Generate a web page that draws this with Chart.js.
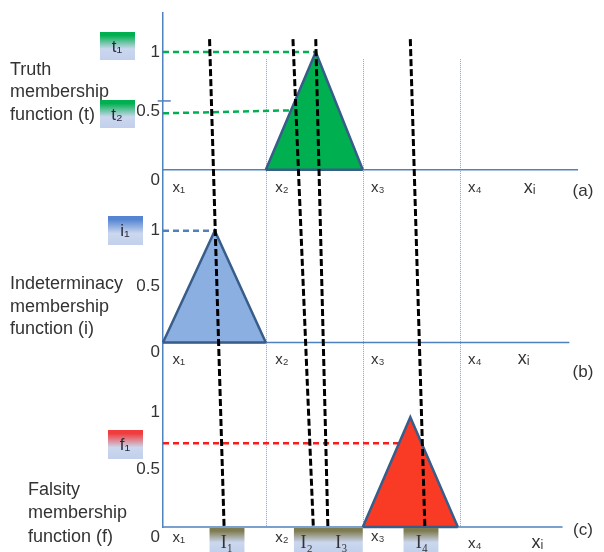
<!DOCTYPE html>
<html>
<head>
<meta charset="utf-8">
<script src="https://cdn.jsdelivr.net/npm/chart.js@4.4.1/dist/chart.umd.min.js"></script>
<style>
  html, body { margin: 0; padding: 0; background: #fff; }
</style>
</head>
<body>
<canvas id="chart" width="604" height="552"></canvas>
<script>
// x units: 1, 2, 3 are the x2, x3, x4 grid lines, the y axis sits at -0.06
var xMin = -0.06, xMax = 4.25;
var xLabels = ['x₁', 'x₂', 'x₃', 'x₄', 'xᵢ'];
var yTicks = [0, 0.5, 1];
var gridX = [1, 2, 3];
var axisEnd = [4.22, 4.13, 4.06];   // length of each panel's x axis

// (a) truth membership
var truthX = [1, 1.515, 2];
var truthY = [0, 1, 0];
var t1LineX = [-0.06, 1.515];
var t1LineY = [1, 1];
var t2LineX = [-0.06, 1.25];
var t2LineY = [0.48, 0.505];
var strayTickX = [-0.115, 0.02];
var strayTickY = [0.585, 0.585];

// (b) indeterminacy membership
var indetX = [-0.06, 0.474, 1];
var indetY = [0, 1, 0];
var i1LineX = [-0.06, 0.474];
var i1LineY = [1, 1];

// (c) falsity membership
var falsX = [2, 2.49, 2.98];
var falsY = [0, 0.957, 0];
var f1LineX = [-0.06, 2.62];
var f1LineY = [0.73, 0.73];

// black dashed cuts, from panel (a) down to panel (c) baseline
var cutTopX = [0.42, 1.28, 1.515, 2.49];
var cutBottomX = [0.57, 1.49, 1.64, 2.64];
var cutTopY = 1.11;
var gridTopY = 0.94;

// interval labels under panel (c)
var intervals = ['I₁', 'I₂', 'I₃', 'I₄'];
var intervalX = [0.6, 1.42, 1.78, 2.61];
var intervalBoxes = [[0.42, 0.78], [1.29, 2.0], [2.42, 2.78]];

var SANS = "'Liberation Sans', 'DejaVu Sans', sans-serif";
var SERIF = "'Liberation Serif', 'DejaVu Serif', serif";
var AXIS = '#4f81bd';
var EDGE = '#385d8a';

function pts(xs, ys) {
  return xs.map(function (x, i) { return { x: x, y: ys[i] }; });
}

function shape(xs, ys, axis, fill) {
  return {
    data: pts(xs, ys), yAxisID: axis, pointRadius: 0, tension: 0,
    borderColor: EDGE, borderWidth: 2.5, borderJoinStyle: 'miter',
    backgroundColor: fill, fill: 'origin', order: 1, clip: false
  };
}

// closing base edge of a triangle
function baseEdge(xs, axis) {
  return {
    data: pts([xs[0], xs[xs.length - 1]], [0, 0]), yAxisID: axis, pointRadius: 0,
    borderColor: EDGE, borderWidth: 2.5, fill: false, order: 0, clip: false
  };
}

function dashed(xs, ys, axis, color) {
  return {
    data: pts(xs, ys), yAxisID: axis, pointRadius: 0,
    borderColor: color, borderWidth: 2.5, borderDash: [6, 4], fill: false,
    order: 2, clip: false
  };
}

function plain(xs, ys, axis) {
  return {
    data: pts(xs, ys), yAxisID: axis, pointRadius: 0,
    borderColor: AXIS, borderWidth: 1.5, fill: false, order: 3, clip: false
  };
}

function yAxis(max, sw, w) {
  return {
    type: 'linear', position: 'left', stack: 'panels', stackWeight: sw, weight: w,
    min: 0, max: max,
    afterBuildTicks: function (s) { s.ticks = yTicks.map(function (v) { return { value: v }; }); },
    afterFit: function (s) { s.width = 163; },
    grid: { display: false, drawTicks: false },
    border: { display: true, color: AXIS, width: 1.5 },
    ticks: {
      padding: 3, color: '#333', autoSkip: false,
      font: { family: SANS, size: 17 },
      callback: function (v) { return v === 0 ? ['', '0'] : String(v); }
    }
  };
}

function box(ctx, x0, y0, x1, y1, top) {
  var g = ctx.createLinearGradient(0, y0, 0, y1);
  g.addColorStop(0, top);
  g.addColorStop(0.12, top);
  g.addColorStop(0.6, '#cbd7ee');
  g.addColorStop(1, '#c2d0ec');
  ctx.fillStyle = g;
  ctx.fillRect(x0, y0, x1 - x0, y1 - y0);
}

var overlay = {
  id: 'overlay',
  beforeDatasetsDraw: function (chart) {
    var ctx = chart.ctx, x = chart.scales.x, ya = chart.scales.ya, yc = chart.scales.yc;
    ctx.save();
    ctx.strokeStyle = '#7fa6da';
    ctx.lineWidth = 1;
    ctx.setLineDash([1, 1]);
    gridX.forEach(function (v) {
      var px = Math.round(x.getPixelForValue(v)) + 0.5;
      ctx.beginPath();
      ctx.moveTo(px, ya.getPixelForValue(gridTopY));
      ctx.lineTo(px, yc.getPixelForValue(0));
      ctx.stroke();
    });
    ctx.restore();
  },
  afterDatasetsDraw: function (chart) {
    var ctx = chart.ctx, x = chart.scales.x, ya = chart.scales.ya, yc = chart.scales.yc;
    ctx.save();
    ctx.strokeStyle = '#000';
    ctx.lineWidth = 3;
    ctx.setLineDash([7, 3]);
    cutTopX.forEach(function (v, i) {
      ctx.beginPath();
      ctx.moveTo(x.getPixelForValue(v), ya.getPixelForValue(cutTopY));
      ctx.lineTo(x.getPixelForValue(cutBottomX[i]), yc.getPixelForValue(0));
      ctx.stroke();
    });
    ctx.restore();
  },
  afterDraw: function (chart) {
    var ctx = chart.ctx, x = chart.scales.x;
    var panels = [chart.scales.ya, chart.scales.yb, chart.scales.yc];
    ctx.save();
    ctx.fillStyle = '#333';
    ctx.textBaseline = 'alphabetic';
    ctx.textAlign = 'left';
    ctx.font = '18px ' + SANS;
    [[10, 75, 'Truth'], [10, 97, 'membership'], [10, 120, 'function (t)'],
     [10, 289, 'Indeterminacy'], [10, 312, 'membership'], [10, 334, 'function (i)'],
     [28, 495, 'Falsity'], [28, 518, 'membership'], [28, 542, 'function (f)']]
      .forEach(function (t) { ctx.fillText(t[2], t[0], t[1]); });

    // value tags next to the y axis
    box(ctx, 100, 32, 135, 60, '#00b050');
    box(ctx, 100, 100, 135, 128, '#00b050');
    box(ctx, 108, 216, 143, 245, '#5585d2');
    box(ctx, 108, 430, 143, 459, '#f03c3c');
    ctx.fillStyle = '#2a2a3a';
    ctx.textAlign = 'center';
    ctx.textBaseline = 'middle';
    ctx.font = '17px ' + SANS;
    ctx.fillText('t₁', 117, 47);
    ctx.fillText('t₂', 117, 115);
    ctx.fillText('i₁', 125, 231);
    ctx.fillText('f₁', 125, 445);

    // x labels under each panel
    var labelX = [[0.103, 1.165, 2.155, 3.155, 3.72], [0.103, 1.165, 2.155, 3.155, 3.66], [0.103, 1.165, 2.155, 3.155, 3.80]];
    var labelDy = [[18, 18, 18, 18, 18], [17, 17, 17, 17, 17], [11, 11, 10, 17, 16]];
    ctx.fillStyle = '#333';
    panels.forEach(function (ys, p) {
      var base = ys.getPixelForValue(0);
      xLabels.forEach(function (lab, i) {
        ctx.font = (i === 4 ? '18px ' : '15px ') + SANS;
        ctx.fillText(lab, x.getPixelForValue(labelX[p][i]), base + labelDy[p][i]);
      });
    });
    ctx.font = '17px ' + SANS;
    ctx.fillText('(a)', x.getPixelForValue(4.27), panels[0].getPixelForValue(0) + 21);
    ctx.fillText('(b)', x.getPixelForValue(4.27), panels[1].getPixelForValue(0) + 30);
    ctx.fillText('(c)', x.getPixelForValue(4.27), panels[2].getPixelForValue(0) + 3);

    // interval boxes under panel (c)
    var base = panels[2].getPixelForValue(0);
    intervalBoxes.forEach(function (b) {
      box(ctx, x.getPixelForValue(b[0]), base + 1, x.getPixelForValue(b[1]), chart.height, '#7f7b50');
    });
    ctx.fillStyle = '#333';
    ctx.font = '18px ' + SERIF;
    intervals.forEach(function (lab, i) {
      ctx.fillText(lab, x.getPixelForValue(intervalX[i]), base + 16);
    });
    ctx.restore();
  }
};

var ctx = document.getElementById('chart').getContext('2d');
var chart = new Chart(ctx, {
  type: 'line',
  data: {
    datasets: [
      shape(truthX, truthY, 'ya', '#00b050'),
      shape(indetX, indetY, 'yb', '#8aafe0'),
      shape(falsX, falsY, 'yc', '#f93b26'),
      baseEdge(truthX, 'ya'),
      baseEdge(indetX, 'yb'),
      baseEdge(falsX, 'yc'),
      dashed(t1LineX, t1LineY, 'ya', '#00b050'),
      dashed(t2LineX, t2LineY, 'ya', '#00b050'),
      dashed(i1LineX, i1LineY, 'yb', '#4f81bd'),
      dashed(f1LineX, f1LineY, 'yc', '#ff1a1a'),
      plain([xMin, axisEnd[0]], [0, 0], 'ya'),
      plain([xMin, axisEnd[1]], [0, 0], 'yb'),
      plain([xMin, axisEnd[2]], [0, 0], 'yc'),
      plain(strayTickX, strayTickY, 'ya')
    ]
  },
  options: {
    responsive: false,
    animation: false,
    layout: { padding: { top: 12, right: 23, bottom: 25, left: 0 } },
    plugins: { legend: { display: false }, tooltip: { enabled: false } },
    scales: {
      x: { type: 'linear', min: xMin, max: xMax, display: false },
      ya: yAxis(1.33, 157, 3),
      yb: yAxis(1.545, 173, 2),
      yc: yAxis(1.609, 185, 1)
    }
  },
  plugins: [overlay]
});
</script>
</body>
</html>
